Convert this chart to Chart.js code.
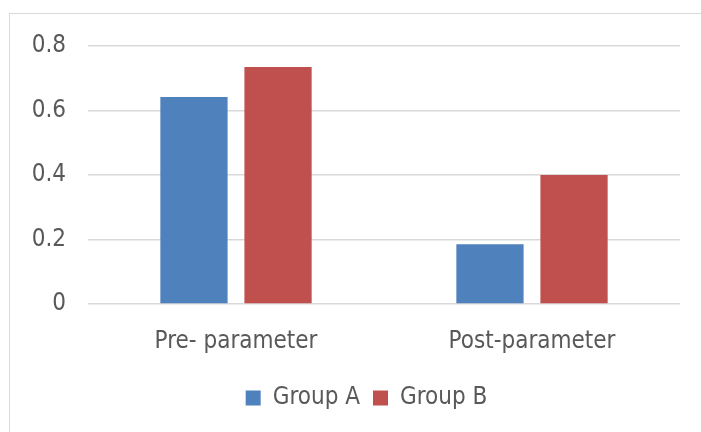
<!DOCTYPE html>
<html>
<head>
<meta charset="utf-8">
<script src="https://cdn.jsdelivr.net/npm/chart.js@4/dist/chart.umd.min.js"></script>
<style>
  html, body { margin: 0; padding: 0; background: #fff; overflow: hidden; }
  #wrap { position: relative; width: 701px; height: 432px; }
  #frame { position: absolute; left: 9px; top: 13px; width: 760px; height: 500px; border: 1.5px solid #d9d9d9; box-sizing: border-box; }
  canvas { position: absolute; left: 0; top: 0; }
</style>
</head>
<body>
<div id="wrap">
  <div id="frame"></div>
  <canvas id="c" width="701" height="432"></canvas>
</div>
<script>
const categories = ["Pre- parameter", "Post-parameter"];
const groupA = [0.642, 0.185];
const groupB = [0.735, 0.400];
const yTicks = [0, 0.2, 0.4, 0.6, 0.8];

const FONT = "'DejaVu Sans Condensed', 'DejaVu Sans', sans-serif";
const TXT = '#595959';

const legendShift = {
  id: 'legendShift',
  afterLayout(chart) {
    const lg = chart.legend;
    if (lg) { lg.left += 12; lg.right += 12; }
  }
};

new Chart(document.getElementById('c'), {
  type: 'bar',
  data: {
    labels: categories,
    datasets: [
      { label: 'Group A', data: groupA, backgroundColor: '#4F81BD', borderWidth: 0,
        categoryPercentage: 0.568, barPercentage: 0.8 },
      { label: 'Group B', data: groupB, backgroundColor: '#C0504D', borderWidth: 0,
        categoryPercentage: 0.568, barPercentage: 0.8 }
    ]
  },
  plugins: [legendShift],
  options: {
    responsive: false,
    animation: false,
    layout: { padding: { left: 29, right: 21, top: 46, bottom: 12 } },
    plugins: {
      legend: {
        position: 'bottom',
        labels: { font: { family: FONT, size: 24 }, color: TXT, boxWidth: 15, boxHeight: 15, padding: 13 }
      },
      tooltip: { enabled: false }
    },
    scales: {
      x: {
        grid: { display: false, drawTicks: false },
        border: { display: false },
        ticks: { font: { family: FONT, size: 24 }, color: TXT, padding: 23, maxRotation: 0 },
        afterFit: (s) => { s.height = 69; }
      },
      y: {
        min: 0, max: 0.8,
        afterBuildTicks: (s) => { s.ticks = yTicks.map(v => ({ value: v })); },
        grid: { color: '#d9d9d9', lineWidth: 1.5, drawTicks: false },
        border: { display: false },
        ticks: { font: { family: FONT, size: 24 }, color: TXT, padding: 22,
                 callback: (v) => (v === 0 ? '0' : v.toFixed(1)) },
        afterFit: (s) => { s.width = 59; }
      }
    }
  }
});
</script>
</body>
</html>
